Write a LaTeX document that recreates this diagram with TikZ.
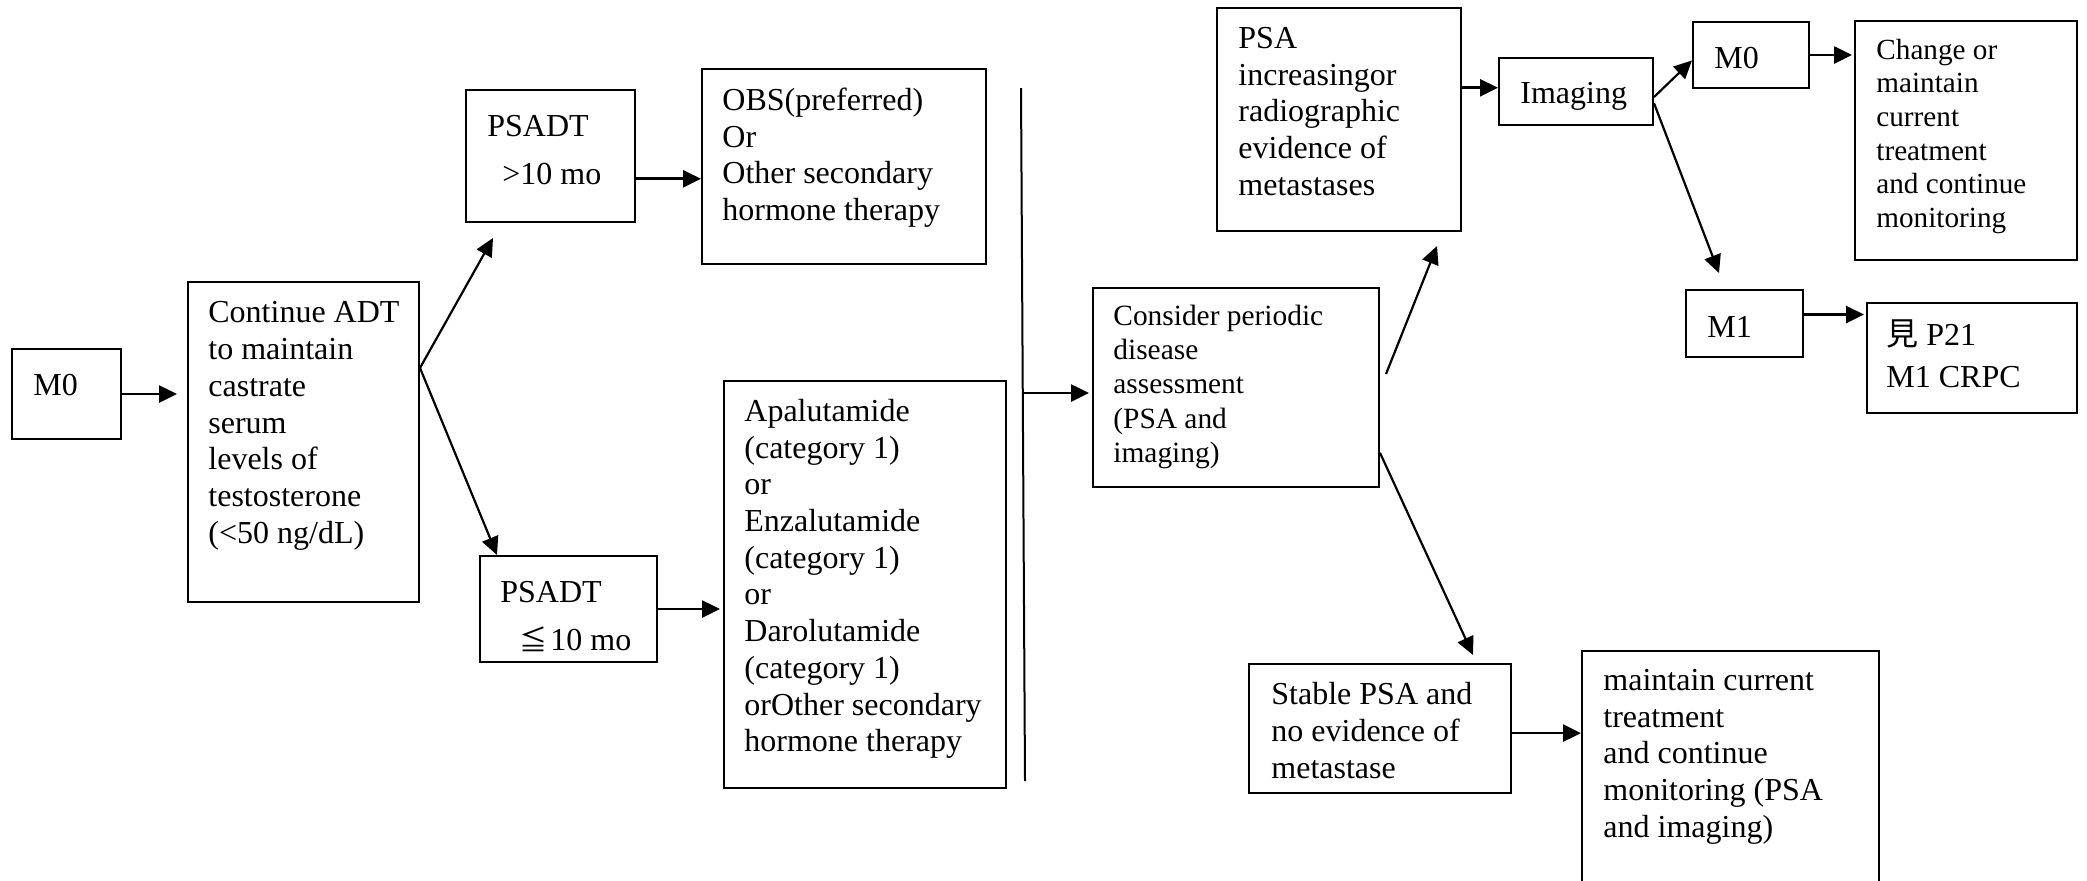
\documentclass[tikz,border=0pt]{standalone}
\usepackage{fontspec}
\setmainfont{Liberation Serif}
\newfontfamily\cjk{Noto Sans CJK JP}
\usetikzlibrary{arrows.meta,calc,fit}
\newcommand{\fst}{\rule{0pt}{0.75em}}
\begin{document}
\begin{tikzpicture}[x=0.5pt,y=-0.5pt,
  box/.style={draw, line width=1pt, inner sep=0pt, rectangle},
  txt/.style={anchor=north west, inner sep=0pt, align=left, font=\fontsize{16pt}{18.35pt}\selectfont},
  arr/.style={line width=1.3pt, -{Triangle[length=9pt,width=8.5pt]}},
  darr/.style={line width=1.1pt, -{Triangle[length=9pt,width=8.5pt]}}]
\useasboundingbox (0,0) rectangle (2087,880);
\clip (0,0) rectangle (2087,880);
% boxes
\node[box, fit={(12,349)(121,439)}] (m0l) {};
\node[box, fit={(188,282)(419,602)}] (adt) {};
\node[box, fit={(466,90)(635,222)}] (p1) {};
\node[box, fit={(702,69)(986,264)}] (obs) {};
\node[box, fit={(480,556)(657,662)}] (p2) {};
\node[box, fit={(724,381)(1006,788)}] (apal) {};
\node[box, fit={(1093,288)(1379,487)}] (cons) {};
\node[box, fit={(1217,8)(1461,231)}] (psa) {};
\node[box, fit={(1499,58)(1653,125)}] (img) {};
\node[box, fit={(1693,22)(1809,88)}] (m0r) {};
\node[box, fit={(1855,21)(2077,260)}] (chg) {};
\node[box, fit={(1686,290)(1803,357)}] (m1) {};
\node[box, fit={(1867,303)(2077,413)}] (see) {};
\node[box, fit={(1249,664)(1511,793)}] (stab) {};
\node[box, fit={(1582,651)(1879,900)}] (mnt) {};
% texts
\node[txt] (m0lT) at (33,371) {\fst M0};
\node[txt] (adtT) at (208,298.5) {\fst Continue ADT\\to maintain\\castrate\\serum\\levels of\\testosterone\\(<50 ng/dL)};
\node[txt] (p1T) at (487,112) {\fst PSADT\\[5.6pt]\hspace*{7.5pt}>10 mo};
\node[txt] (obsT) at (722,86) {\fst OBS(preferred)\\Or\\Other secondary\\hormone therapy};
\node[txt] (p2T) at (500,578) {\fst PSADT\\[5.6pt]\hspace*{9.5pt}{\cjk\fontsize{14pt}{14pt}\selectfont ≦}\hspace*{1.5pt}10 mo};
\node[txt] (apalT) at (744,397) {\fst Apalutamide\\(category 1)\\or\\Enzalutamide\\(category 1)\\or\\Darolutamide\\(category 1)\\orOther secondary\\hormone therapy};
\node[txt, font=\fontsize{14.7pt}{17.1pt}\selectfont] (consT) at (1113,303) {\fst Consider periodic\\disease\\assessment\\(PSA and\\imaging)};
\node[txt] (psaT) at (1238,24) {\fst PSA\\increasingor\\radiographic\\evidence of\\metastases};
\node[txt] (imgT) at (1520,79) {\fst Imaging};
\node[txt] (m0rT) at (1714,44) {\fst M0};
\node[txt, font=\fontsize{14.6pt}{16.8pt}\selectfont] (chgT) at (1876,37) {\fst Change or\\maintain\\current\\treatment\\and continue\\monitoring};
\node[txt] (m1T) at (1707,313) {\fst M1};
\node[txt] (seeT) at (1886,313) {\rule{0pt}{1em}{\cjk 見} P21\\[2.65pt]M1 CRPC};
\node[txt, font=\fontsize{16pt}{18.5pt}\selectfont] (stabT) at (1271,680) {\fst Stable PSA and\\no evidence of\\metastase};
\node[txt] (mntT) at (1603,666) {\fst maintain current\\treatment\\and continue\\monitoring (PSA\\and imaging)};
% coordinates
\coordinate (adtout) at ($(adt.north east)!0.27!(adt.south east)$);
\coordinate (p1in) at ($(p1.south west)+(28,15)$);
\coordinate (p2in) at ($(p2.north west)+(18,0)$);
\coordinate (vtop) at (1021,88);
\coordinate (vbot) at (1025,781);
\coordinate (vmid) at (1024,393);
\coordinate (c1) at (1386,374);
\coordinate (c2) at (1437,246);
\coordinate (c3) at (1473,655);
\coordinate (i3) at (1719,273);
% connectors
\draw[arr, shorten >=5pt] (m0l.east) -- (m0l.east -| adt.west);
\draw[darr] (adtout) -- (p1in);
\draw[darr] (adtout) -- (p2in);
\draw[arr] ($(p1.north east)!0.67!(p1.south east)$) coordinate (a1) -- (a1 -| obs.west);
\draw[arr, shorten >=1.5pt] (p2.east) -- (p2.east -| apal.west);
\draw[line width=1pt] (vtop) -- (vbot);
\draw[arr, shorten >=1.5pt] (vmid) -- (vmid -| cons.west);
\draw[darr] (c1) -- (c2);
\draw[darr] ($(cons.north east)!0.825!(cons.south east)$) -- (c3);
\draw[arr] ($(psa.north east)!0.359!(psa.south east)$) coordinate (a2) -- (a2 -| img.west);
\draw[darr] ($(img.north east)!0.58!(img.south east)$) -- ($(m0r.north west)!0.58!(m0r.south west)$);
\draw[darr] ($(img.north east)!0.67!(img.south east)$) -- (i3);
\draw[arr, shorten >=1pt] (m0r.east) -- (m0r.east -| chg.west);
\draw[arr, shorten >=1pt] ($(m1.north east)!0.37!(m1.south east)$) coordinate (a3) -- (a3 -| see.west);
\draw[arr] ($(stab.north east)!0.535!(stab.south east)$) coordinate (a4) -- (a4 -| mnt.west);
\end{tikzpicture}
\end{document}
